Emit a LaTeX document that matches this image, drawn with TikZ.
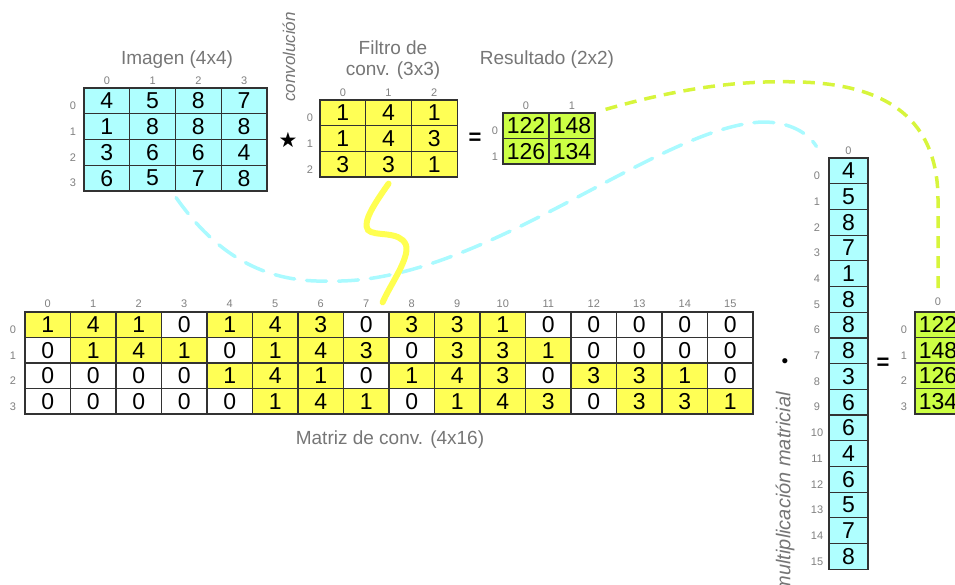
\documentclass[tikz,border=0pt]{standalone}
\usepackage{fontspec}
\setmainfont{Liberation Sans}
\newfontfamily\simbolos{DejaVu Sans}
\usetikzlibrary{calc}

\definecolor{celdacian}{RGB}{175,255,255}
\definecolor{celdaamarilla}{RGB}{255,255,85}
\definecolor{celdaverde}{RGB}{204,255,68}
\definecolor{trazocian}{RGB}{170,250,255}
\definecolor{trazoverde}{RGB}{215,245,60}
\definecolor{trazoamarillo}{RGB}{255,255,80}
\definecolor{borde}{RGB}{50,50,50}
\definecolor{grisindice}{RGB}{128,128,128}
\definecolor{gristitulo}{RGB}{118,118,118}
\colorlet{am}{celdaamarilla}
\colorlet{bl}{white}

\begin{document}
\begin{tikzpicture}[x=1pt,y=-1pt,
  celda/.style={draw=borde, line width=1.2pt, inner sep=0pt, minimum width=45.7pt, minimum height=25.6pt, font=\fontsize{23}{23}\selectfont},
  idx/.style={text=grisindice, inner sep=0pt, font=\fontsize{11}{11}\selectfont},
  titulo/.style={text=gristitulo, inner sep=0pt, align=center, font=\fontsize{19}{21}\selectfont},
  rotulo/.style={text=gristitulo, inner sep=0pt, rotate=90, font=\itshape\fontsize{17}{17}\selectfont},
  op/.style={inner sep=0pt, font=\bfseries\fontsize{22}{22}\selectfont},
  trazo cian/.style={draw=trazocian, line width=3.5pt, line cap=round, dash pattern=on 20pt off 12pt},
  trazo verde/.style={draw=trazoverde, line width=3.5pt, dash pattern=on 12pt off 8pt},
  trazo amarillo/.style={draw=trazoamarillo, line width=6pt, line cap=round}]
\useasboundingbox (0,0) rectangle (955,584);
\clip (0,0) rectangle (955,584);

% imagen 4x4
\node[titulo] (img-tit) at (177,60) {Imagen (4x4)};
\foreach \fila [count=\i from 0] in {{4,5,8,7},{1,8,8,8},{3,6,6,4},{6,5,7,8}} {
  \node[idx] (img-f\i) at (73,{88+25.75*(\i+0.5)+5}) {\i};
  \node[idx] (img-c\i) at ({84+45.75*(\i+0.5)},81) {\i};
  \foreach \v [count=\j from 0] in \fila
    \node[celda, minimum width=45.75pt, minimum height=25.75pt, fill=celdacian] (img-\i-\j) at ({84+45.75*(\j+0.5)},{88+25.75*(\i+0.5)}) {\v};
}

% filtro 3x3
\node[rotulo] (conv-rot) at (289,57) {convolución};
\node[inner sep=0pt, font=\simbolos\fontsize{21}{21}\selectfont] (estrella) at (288,140) {★};
\node[titulo] (filtro-tit) at (393,60) {Filtro de\\conv. (3x3)};
\foreach \fila [count=\i from 0] in {{1,4,1},{1,4,3},{3,3,1}} {
  \node[idx] (filtro-f\i) at (310,{100+25.7*(\i+0.5)+5}) {\i};
  \node[idx] (filtro-c\i) at ({320+45.7*(\i+0.5)},93) {\i};
  \foreach \v [count=\j from 0] in \fila
    \node[celda, fill=celdaamarilla] (filtro-\i-\j) at ({320+45.7*(\j+0.5)},{100+25.7*(\i+0.5)}) {\v};
}
\node[op] (igual-a) at (475,139) {=};

% resultado 2x2
\node[titulo] (res-tit) at (547,60) {Resultado (2x2)};
\foreach \fila [count=\i from 0] in {{122,148},{126,134}} {
  \node[idx] (res-f\i) at (495,{113+25.5*(\i+0.5)+5}) {\i};
  \node[idx] (res-c\i) at ({503+46*(\i+0.5)},106) {\i};
  \foreach \v [count=\j from 0] in \fila
    \node[celda, minimum width=46pt, minimum height=25.5pt, fill=celdaverde] (res-\i-\j) at ({503+46*(\j+0.5)},{113+25.5*(\i+0.5)}) {\v};
}

% matriz de convolucion 4x16
\foreach \j in {0,...,15}
  \node[idx] (conv-c\j) at ({25+45.5*(\j+0.5)},304) {\j};
\foreach \fila [count=\i from 0] in {
  {1/am,4/am,1/am,0/bl,1/am,4/am,3/am,0/bl,3/am,3/am,1/am,0/bl,0/bl,0/bl,0/bl,0/bl},
  {0/bl,1/am,4/am,1/am,0/bl,1/am,4/am,3/am,0/bl,3/am,3/am,1/am,0/bl,0/bl,0/bl,0/bl},
  {0/bl,0/bl,0/bl,0/bl,1/am,4/am,1/am,0/bl,1/am,4/am,3/am,0/bl,3/am,3/am,1/am,0/bl},
  {0/bl,0/bl,0/bl,0/bl,0/bl,1/am,4/am,1/am,0/bl,1/am,4/am,3/am,0/bl,3/am,3/am,1/am}} {
  \node[idx] (conv-f\i) at (13,{312+25.5*(\i+0.5)+5}) {\i};
  \foreach \v/\c [count=\j from 0] in \fila
    \node[celda, minimum width=45.5pt, minimum height=25.5pt, fill=\c] (conv-\i-\j) at ({25+45.5*(\j+0.5)},{312+25.5*(\i+0.5)}) {\v};
}
\node[titulo] (conv-tit) at (390,440) {Matriz de conv. (4x16)};

% vector 16x1
\node[rotulo, font=\itshape\fontsize{20}{20}\selectfont, anchor=east] (mult-rot) at (785,392) {multiplicación matricial};
\node[inner sep=0pt, font=\fontsize{19}{19}\selectfont] (punto) at (785,363) {•};
\node[idx] (vec-c0) at (848.5,151) {0};
\foreach \v [count=\i from 0] in {4,5,8,7,1,8,8,8,3,6,6,4,6,5,7,8} {
  \node[idx] (vec-f\i) at (817,{158+25.7*(\i+0.5)+5}) {\i};
  \node[celda, minimum width=39pt, minimum height=25.7pt, fill=celdacian] (vec-\i) at (848.5,{158+25.7*(\i+0.5)}) {\v};
}
\node[op] (igual-b) at (883,364) {=};

% resultado 4x1
\node[idx] (rescol-c0) at (938,302) {0};
\foreach \v [count=\i from 0] in {122,148,126,134} {
  \node[idx] (rescol-f\i) at (904,{312+25.5*(\i+0.5)+5}) {\i};
  \node[celda, minimum width=46pt, minimum height=25.5pt, fill=celdaverde] (rescol-\i) at (938,{312+25.5*(\i+0.5)}) {\v};
}

% conectores
\coordinate (cian-ini) at ($(img-3-1.south east)+(0,6)$);
\coordinate (cian-fin) at ($(vec-0.north west)+(-12,-11)$);
\draw[trazo cian] (cian-ini) .. controls (220,260) and (270,283) .. (330,281)
  .. controls (480,285) and (660,125) .. (763,122)
  .. controls (790,122) and (808,133) .. (cian-fin);
\coordinate (verde-ini) at ($(res-0-1.north east)+(10,-3)$);
\coordinate (verde-fin) at ($(rescol-0.north)+(0,-22)$);
\draw[trazo verde] (verde-ini) .. controls (680,88) and (740,80) .. (800,82)
  .. controls (900,85) and (938,130) .. (938,200) -- (verde-fin);
\coordinate (amar-ini) at ($(filtro-2-1.south)+(0,6)$);
\coordinate (amar-fin) at ($(conv-0-7.north east)+(-7,-9)$);
\draw[trazo amarillo] (amar-ini) .. controls (375,203) and (362,222) .. (368,230)
  .. controls (374,237) and (400,230) .. (406,245)
  .. controls (410,258) and (390,285) .. (amar-fin);
\end{tikzpicture}
\end{document}
